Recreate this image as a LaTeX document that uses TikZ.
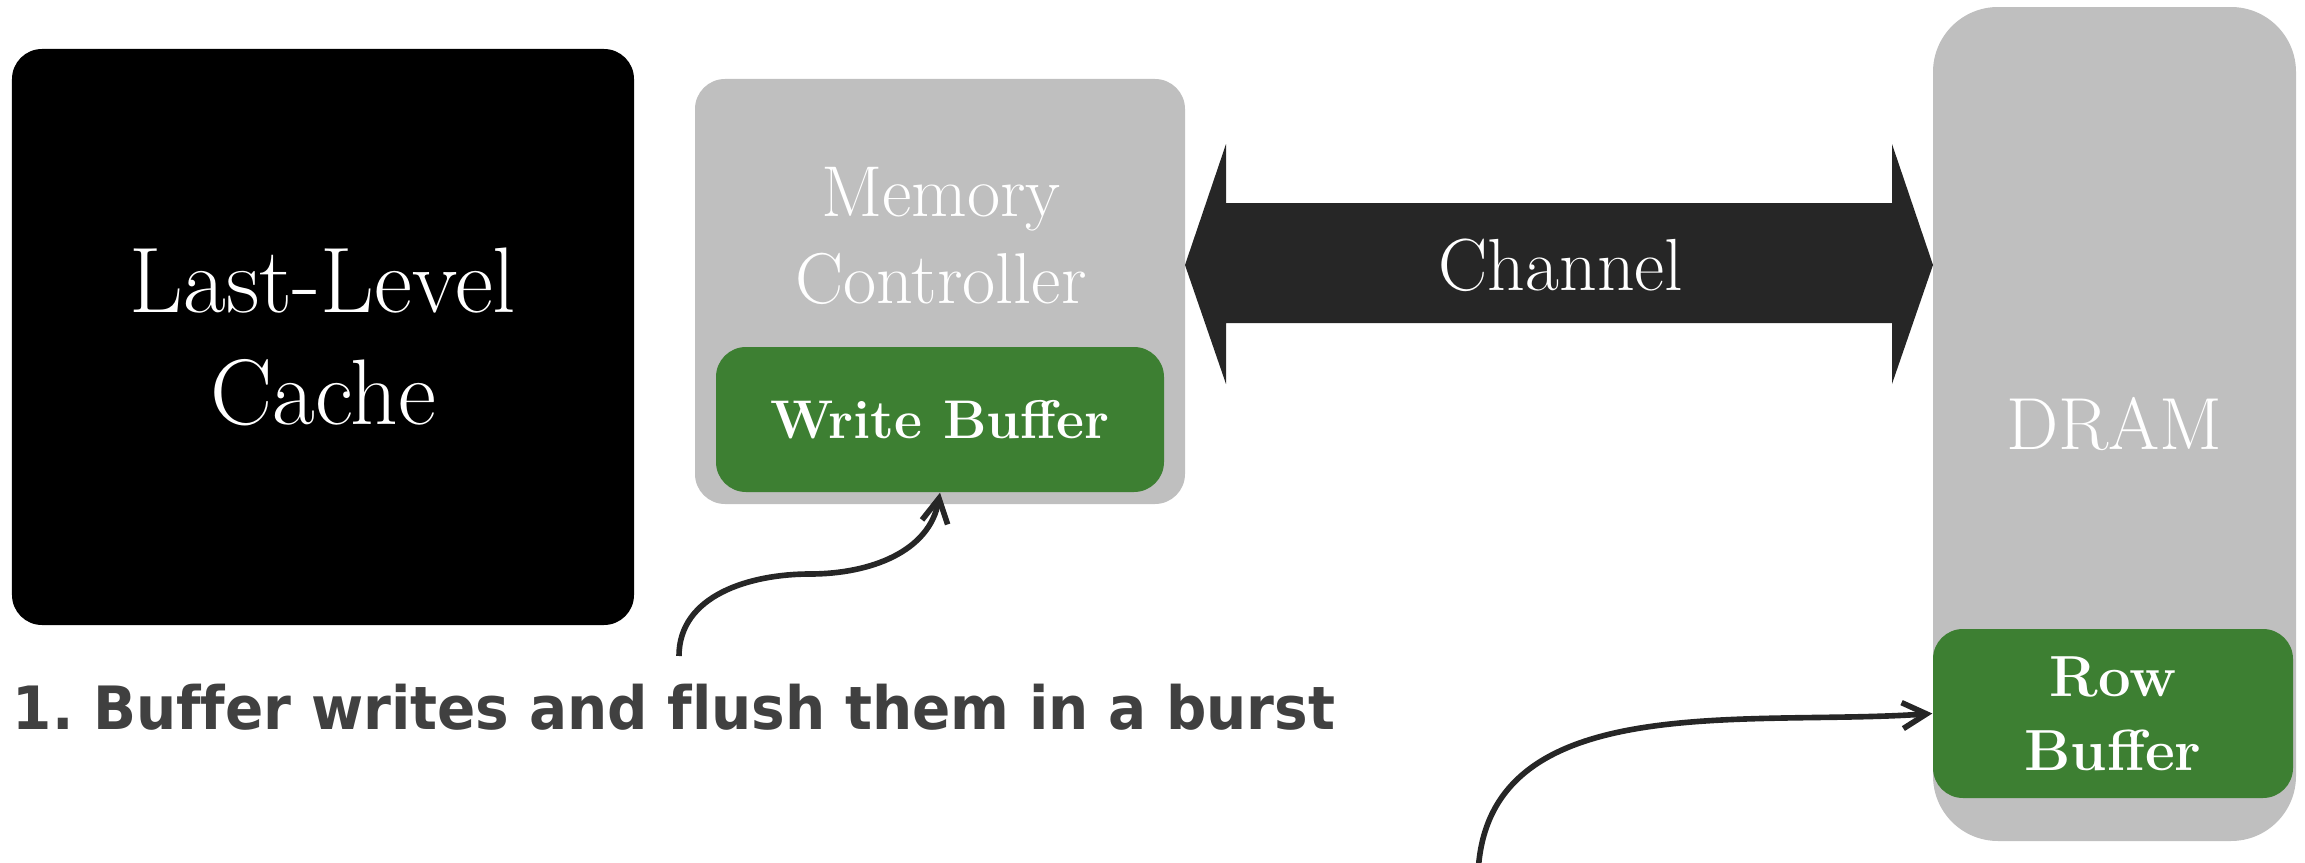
\documentclass[tikz,border=0pt]{standalone}
\usepackage{fontspec}
\newfontfamily\capfont[FakeStretch=0.945, Ligatures=CommonOff]{DejaVu Sans}
\usepackage{tikz}
\usetikzlibrary{arrows.meta,positioning}
\definecolor{boxgray}{HTML}{BFBFBF}
\definecolor{bufgreen}{HTML}{3D7F32}
\definecolor{chandark}{HTML}{262626}
\definecolor{capgray}{HTML}{404040}
\frenchspacing

\begin{document}
\begin{tikzpicture}[>={Straight Barb[length=2.4mm,width=2.6mm]},
    block/.style={rounded corners=0.3cm, inner sep=0pt, align=center, text=white},
    buf/.style={block, fill=bufgreen, font=\fontsize{15.5}{21}\selectfont\bfseries},
    link/.style={->, line width=1.6pt, draw=chandark}]

    \useasboundingbox (0,0) rectangle (23.05,-8.63);

    % Cache (left)
    \node[block, fill=black, minimum width=6.22cm, minimum height=5.76cm,
          font=\fontsize{26.5}{32}\selectfont] (llc) at (3.23,-3.37) {Last-Level\\Cache};

    % Memory controller with its write buffer
    \node[block, fill=boxgray, minimum width=4.90cm, minimum height=4.25cm] (mc) at (9.40,-2.915) {};
    \node[text=white, align=center, font=\fontsize{20.5}{25}\selectfont] (mctext) at (9.41,-2.36) {Memory\\Controller};
    \node[buf, minimum width=4.48cm, minimum height=1.45cm] (wb) at (9.40,-4.195) {Write Buffer};

    % DRAM with its row buffer
    \node[block, fill=boxgray, rounded corners=0.65cm, minimum width=3.63cm, minimum height=8.34cm,
          font=\fontsize{21}{24}\selectfont] (dram) at (21.145,-4.24) {DRAM};
    \node[buf, font=\fontsize{16.5}{21}\selectfont\bfseries, minimum width=3.60cm, minimum height=1.69cm]
        (rb) at (21.13,-7.135) {Row\\Buffer};

    % Channel between controller and DRAM
    \fill[chandark] (11.85,-2.65) -- (12.26,-1.44) -- (12.26,-2.03) -- (18.92,-2.03) -- (18.92,-1.44)
        -- (19.33,-2.65) -- (18.92,-3.84) -- (18.92,-3.23) -- (12.26,-3.23) -- (12.26,-3.84) -- cycle;
    \node[text=white, font=\fontsize{21}{24}\selectfont] (chan) at (15.61,-2.65) {Channel};

    % Caption
    \node[anchor=base west, inner sep=0pt, text=capgray, font=\capfont\bfseries\fontsize{17}{20}\selectfont]
        (cap) at (0.12,-7.29) {1. Buffer writes and flush them in a burst};

    % Arrows
    \coordinate (from1) at (6.79,-6.56);
    \coordinate (bend1) at (8.10,-5.74);
    \draw[link] (from1) to[out=90,in=180] (bend1) to[out=0,in=-100] (wb.south);
    \coordinate (from2) at (14.78,-8.75);
    \draw[link] (from2) to[out=88,in=184] (rb.west);

\end{tikzpicture}
\end{document}
